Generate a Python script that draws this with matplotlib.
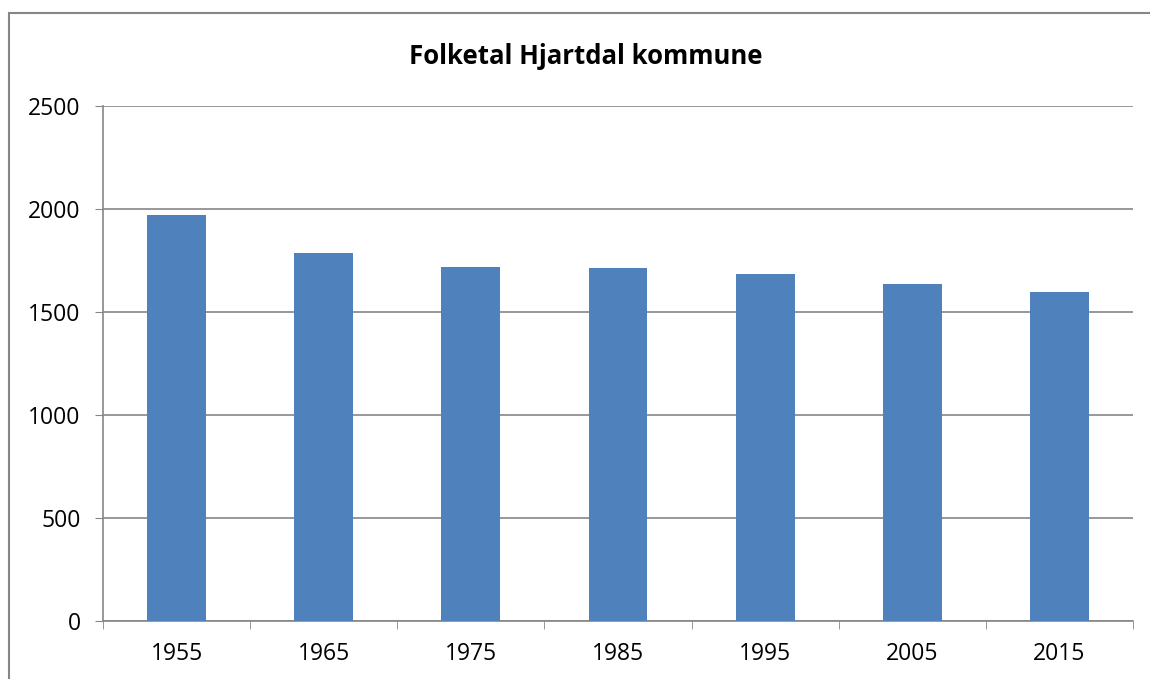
import matplotlib
matplotlib.use("Agg")
import matplotlib.pyplot as plt
import numpy as np
from matplotlib.patches import Rectangle

years = ["1955", "1965", "1975", "1985", "1995", "2005", "2015"]
folketal = [1969, 1786, 1718, 1714, 1684, 1636, 1597]

plt.rcParams['font.family'] = ['Open Sans', 'DejaVu Sans']
grey = '#868686'

fig = plt.figure(figsize=(11.5, 6.79), dpi=100)
ax = fig.add_axes([103/1150, 58/679, 1030/1150, 515/679])

x = np.arange(len(years))
ax.bar(x, folketal, width=0.4, color='#4f81bd', zorder=3)

ax.set_xlim(-0.5, len(years) - 0.5)
ax.set_ylim(0, 2500)
ax.set_yticks(np.arange(0, 2501, 500))
ax.yaxis.grid(True, color=grey, linewidth=1.2, zorder=0)

# category labels centred, tick marks between categories
ax.set_xticks(x)
ax.set_xticklabels(years, fontsize=16.5)
ax.tick_params(axis='x', length=0, pad=15)
ax.set_xticks(np.arange(-0.5, len(years)), minor=True)
ax.tick_params(axis='x', which='minor', length=6, color=grey, direction='out')
ax.tick_params(axis='y', labelsize=16.5, length=6, color=grey, pad=10)

for s in ['top', 'right']:
    ax.spines[s].set_visible(False)
for s in ['left', 'bottom']:
    ax.spines[s].set_color(grey)
    ax.spines[s].set_linewidth(1.2)

fig.text(0.509, 1 - 57/679, "Folketal Hjartdal kommune", ha='center', va='center',
         fontsize=18.5, fontweight='bold')

# outer chart border
fig.patches.append(Rectangle((9/1150, -0.1), 1.2, 1 - 13/679 + 0.1,
                             transform=fig.transFigure, fill=False,
                             edgecolor=grey, linewidth=1.5))

fig.savefig("out.png", dpi=100)
